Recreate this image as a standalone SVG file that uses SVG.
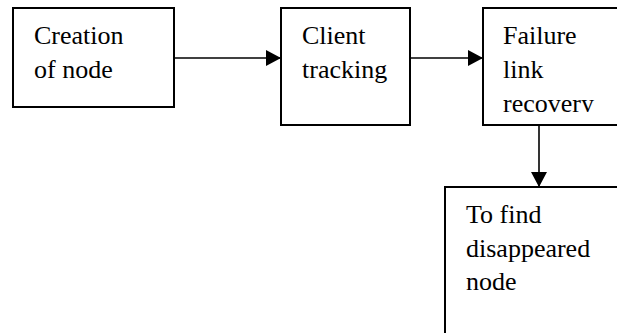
<svg xmlns="http://www.w3.org/2000/svg" width="617" height="333" viewBox="0 0 617 333">
<style>
.box{fill:#fff;stroke:#000;stroke-width:2}
.t{font-family:"Liberation Serif","Times New Roman",serif;font-size:26px;fill:#000}
.c{stroke:#000;stroke-width:1.6;fill:none}
</style>
<defs>
<marker id="ah" markerWidth="16" markerHeight="16" viewBox="0 0 16 16" refX="15" refY="8" orient="auto" markerUnits="userSpaceOnUse">
<path d="M0,0 L15,8 L0,16 Z" fill="#000"/>
</marker>
<clipPath id="c3"><rect x="484" y="9" width="140" height="103"/></clipPath>
</defs>
<rect width="617" height="333" fill="#fff"/>
<g id="connectors">
<line class="c" x1="174" y1="58" x2="281" y2="58" marker-end="url(#ah)"/>
<line class="c" x1="410" y1="58" x2="483" y2="58" marker-end="url(#ah)"/>
<line class="c" x1="539" y1="125" x2="539" y2="187" marker-end="url(#ah)"/>
</g>
<g id="node1">
<rect class="box" x="13" y="8" width="161" height="99"/>
<text class="t" x="34" y="44">Creation</text>
<text class="t" x="34" y="78">of node</text>
</g>
<g id="node2">
<rect class="box" x="281" y="8" width="129" height="117"/>
<text class="t" x="302" y="44">Client</text>
<text class="t" x="302" y="78">tracking</text>
</g>
<g id="node3">
<rect class="box" x="483" y="8" width="150" height="117"/>
<g clip-path="url(#c3)">
<text class="t" x="503" y="44">Failure</text>
<text class="t" x="503" y="78">link</text>
<text class="t" x="503" y="112">recovery</text>
</g>
</g>
<g id="node4">
<rect class="box" x="445" y="187" width="190" height="160"/>
<text class="t" x="466" y="223">To find</text>
<text class="t" x="466" y="257">disappeared</text>
<text class="t" x="466" y="290">node</text>
</g>
</svg>
